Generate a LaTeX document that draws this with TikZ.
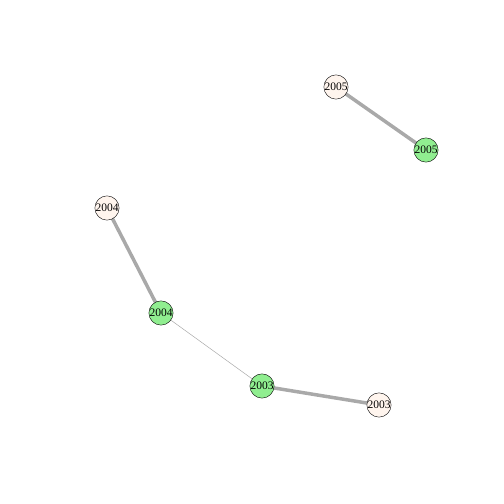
\documentclass[tikz,border=0pt]{standalone}
\usepackage{fontspec}
\setmainfont{Liberation Serif}
\usetikzlibrary{backgrounds}
\definecolor{lgreen}{HTML}{90EE90}
\definecolor{shell}{HTML}{FFF5EE}
\definecolor{edgegray}{HTML}{A9A9A9}
\tikzset{
  yr/.style={circle,draw=black,line width=0.4pt,minimum size=24pt,inner sep=0pt,font=\fontsize{11.5}{11.5}\selectfont},
  old/.style={yr,fill=shell},
  new/.style={yr,fill=lgreen},
  tie/.style={edgegray,line width=3.5pt},
  weak/.style={edgegray,line width=0.5pt}
}
\begin{document}
\begin{tikzpicture}[x=1pt,y=-1pt]
\useasboundingbox (0,0) rectangle (504,504);
\node[old] (a5) at (336,87) {2005};
\node[new] (b5) at (426,150) {2005};
\node[old] (a4) at (107,208) {2004};
\node[new] (b4) at (161,313) {2004};
\node[new] (b3) at (262,386) {2003};
\node[old] (a3) at (379,405) {2003};
\begin{scope}[on background layer]
\draw[tie] (a5.center) -- (b5.center);
\draw[tie] (a4.center) -- (b4.center);
\draw[weak] (b4.center) -- (b3.center);
\draw[tie] (b3.center) -- (a3.center);
\end{scope}
\end{tikzpicture}
\end{document}
